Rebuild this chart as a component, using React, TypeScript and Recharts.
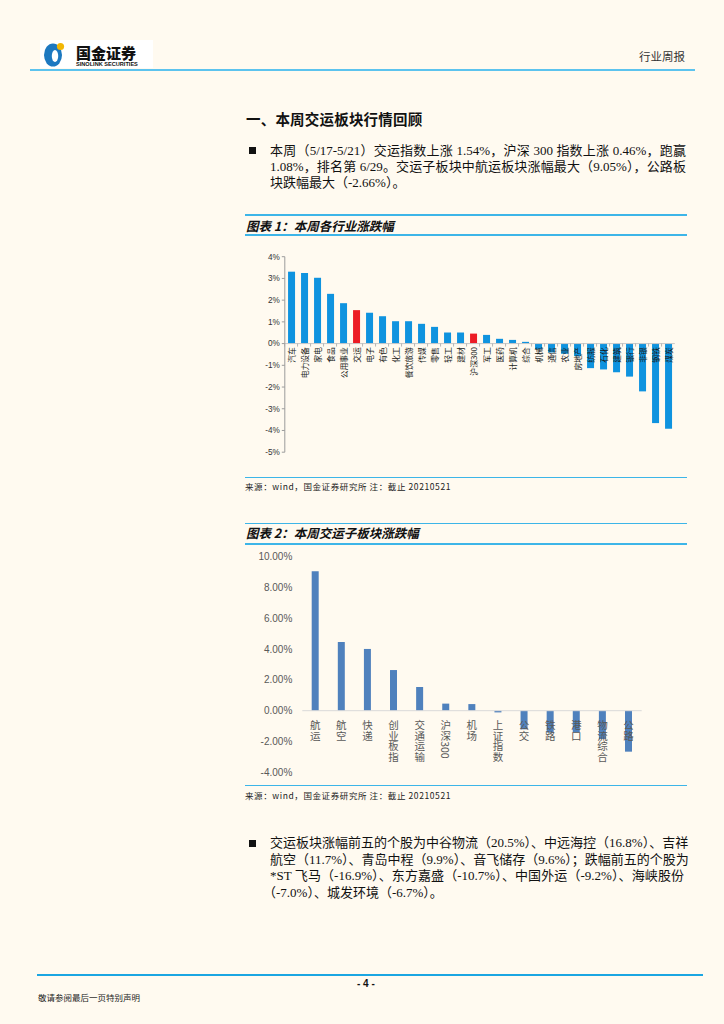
import React from 'react';
import { BarChart, Bar, XAxis, YAxis, Cell, ReferenceLine, LabelList } from 'recharts';

// ---------- Chart 1 data ----------
const industryNames = ['汽车', '电力设备', '家电', '食品', '公用事业', '交运', '电子', '有色', '化工', '餐饮旅游', '传媒', '零售', '轻工', '建材', '沪深300', '军工', '医药', '计算机', '综合', '机械', '通信', '农业', '房地产', '纺服', '石化', '建筑', '银行', '非银', '钢铁', '煤炭'];
const industryChanges = [3.31, 3.25, 3.03, 2.29, 1.86, 1.54, 1.42, 1.26, 1.03, 1.03, 0.91, 0.77, 0.51, 0.51, 0.46, 0.4, 0.22, 0.17, 0.08, -0.26, -0.41, -0.47, -0.58, -1.13, -1.19, -1.32, -1.52, -2.2, -3.66, -3.92];
const highlightedIndustries = ['交运', '沪深300'];
const industryTicks = [4, 3, 2, 1, 0, -1, -2, -3, -4, -5];

// ---------- Chart 2 data ----------
const sectorNames = ['航运', '航空', '快递', '创业板指', '交通运输', '沪深300', '机场', '上证指数', '公交', '铁路', '港口', '物流综合', '公路'];
const sectorChanges = [9.05, 4.46, 4.01, 2.64, 1.54, 0.46, 0.43, -0.11, -1.21, -1.42, -1.4, -1.84, -2.66];
const sectorTicks = [10, 8, 6, 4, 2, 0, -2, -4];

const industryData = industryNames.map((name, i) => ({ name, value: industryChanges[i] }));
const sectorData = sectorNames.map((name, i) => ({ name, value: sectorChanges[i] }));

const BG = '#fffaf0';
const LINE_BLUE = '#3db5e8';
const CJK = '"Liberation Serif", "Noto Sans CJK SC", serif';
const SANS_CJK = '"Noto Sans CJK SC", sans-serif';

function zeroOf(props: any, v: number) {
  const vb = props.viewBox || props;
  const y = Number(vb.y);
  const h = Number(vb.height);
  return { x: Number(vb.x), width: Number(vb.width), zeroY: v >= 0 ? Math.max(y, y + h) : Math.min(y, y + h) };
}

const IndustryLabel = (props: any) => {
  const name = props.value;
  const v = industryChanges[industryNames.indexOf(name)];
  const { x, width, zeroY } = zeroOf(props, v);
  const cx = x + width / 2;
  const ty = zeroY + 3.5;
  const tickX = x - width / 2;
  return (
    <g>
      <line x1={tickX} x2={tickX} y1={zeroY} y2={zeroY + 3} stroke="#a6a6a6" strokeWidth={0.8} />
      <text
        x={cx}
        y={ty}
        transform={`rotate(-90, ${cx}, ${ty})`}
        textAnchor="end"
        dominantBaseline="central"
        fontSize={7.8}
        fill="#1a1a1a"
        fontFamily={SANS_CJK}
      >
        {name}
      </text>
    </g>
  );
};

const SectorLabel = (props: any) => {
  const name = props.value;
  const v = sectorChanges[sectorNames.indexOf(name)];
  const { x, width, zeroY } = zeroOf(props, v);
  const cx = x + width / 2;
  return (
    <text
      x={cx}
      y={zeroY + 9.5}
      style={{ writingMode: 'vertical-rl' as any }}
      textAnchor="start"
      fontSize={10.5}
      fill="#595959"
      fontFamily={SANS_CJK}
    >
      {name}
    </text>
  );
};

const Txt = ({ x, y, size, children, style }: any) => (
  <div
    style={{
      position: 'absolute',
      left: x,
      top: y - size * 0.6,
      fontSize: size,
      lineHeight: `${size * 1.2}px`,
      whiteSpace: 'nowrap',
      fontFamily: CJK,
      color: '#111',
      ...style,
    }}
  >
    {children}
  </div>
);

const JLine = ({ x, y, w, size, children, last }: any) => (
  <div
    style={{
      position: 'absolute',
      left: x,
      top: y - size * 0.6,
      width: w,
      fontSize: size,
      lineHeight: `${size * 1.2}px`,
      height: size * 1.2,
      whiteSpace: 'nowrap',
      textAlign: last ? 'left' : 'justify',
      textAlignLast: last ? 'left' : 'justify',
      fontFamily: CJK,
      color: '#111',
    }}
  >
    {children}
  </div>
);

const HLine = ({ x1, x2, y, color = LINE_BLUE, h = 1.5 }: any) => (
  <div style={{ position: 'absolute', left: x1, top: y - h / 2, width: x2 - x1, height: h, background: color }} />
);

const Bullet = ({ x, y }: any) => (
  <div style={{ position: 'absolute', left: x, top: y - 3.5, width: 7, height: 7, background: '#111' }} />
);

export default function App() {
  return (
    <div style={{ position: 'absolute', left: 0, top: 0, width: 724, height: 1024, background: BG, overflow: 'hidden' }}>
      {/* Header */}
      <svg style={{ position: 'absolute', left: 0, top: 0 }} width={724} height={80}>
        <rect x={40} y={40} width={113} height={28} fill="#ffffff" />
        <ellipse cx={53} cy={55} rx={9} ry={11.5} fill="#1c78c0" />
        <ellipse cx={55} cy={56} rx={3.2} ry={6} fill="#ffffff" />
        <circle cx={60.5} cy={46.5} r={3.6} fill="#f2b705" />
        <text x={76} y={58.5} fontSize={15} fontWeight={900} fontFamily={SANS_CJK} fill="#111">国金证券</text>
        <text x={76} y={65.5} fontSize={5.6} fontWeight={700} fontFamily='"Liberation Sans", sans-serif' fill="#111">SINOLINK SECURITIES</text>
      </svg>
      <Txt x={639} y={58} size={11.5} style={{ color: '#333' }}>行业周报</Txt>
      <HLine x1={30} x2={695} y={70} color="#5cc3ee" h={2.2} />

      {/* Section title */}
      <Txt x={246} y={118.5} size={14.5} style={{ fontWeight: 700, fontFamily: SANS_CJK, letterSpacing: 0.2 }}>一、本周交运板块行情回顾</Txt>

      {/* Bullet 1 */}
      <Bullet x={249} y={150.5} />
      <JLine x={270} y={150.5} w={416} size={13}>本周（5/17-5/21）交运指数上涨 1.54%，沪深 300 指数上涨 0.46%，跑赢</JLine>
      <JLine x={270} y={166.5} w={416} size={13}>1.08%，排名第 6/29。交运子板块中航运板块涨幅最大（9.05%），公路板</JLine>
      <JLine x={270} y={182.5} w={416} size={13} last>块跌幅最大（-2.66%）。</JLine>

      {/* Chart 1 frame */}
      <HLine x1={245} x2={687} y={215} />
      <Txt x={246} y={225} size={12.5} style={{ fontWeight: 700, fontStyle: 'italic', fontFamily: SANS_CJK }}>图表 1：本周各行业涨跌幅</Txt>
      <HLine x1={245} x2={687} y={235} />

      <div style={{ position: 'absolute', left: 240, top: 245 }}>
        <BarChart
          width={445}
          height={220}
          data={industryData}
          margin={{ top: 11.7, right: 10.2, bottom: 12.8, left: 0 }}
          barCategoryGap="25%"
        >
          <XAxis dataKey="name" hide />
          <YAxis
            width={44.8}
            domain={[-5, 4]}
            ticks={industryTicks}
            interval={0}
            tickFormatter={(v: number) => `${v}%`}
            tick={{ fontSize: 8.2, fill: '#333', fontFamily: '"Liberation Sans", sans-serif' }}
            tickSize={3}
            tickMargin={2}
            axisLine={{ stroke: '#9c9c9c' }}
            tickLine={{ stroke: '#9c9c9c' }}
          />
          <ReferenceLine y={0} stroke="#c8c8c8" strokeWidth={1} />
          <Bar dataKey="value" isAnimationActive={false}>
            {industryData.map((d) => (
              <Cell key={d.name} fill={highlightedIndustries.includes(d.name) ? '#ec1c24' : '#0f93df'} />
            ))}
            <LabelList dataKey="name" content={IndustryLabel} />
          </Bar>
        </BarChart>
      </div>

      <HLine x1={245} x2={687} y={477.3} />
      <Txt x={245} y={486} size={8.5} style={{ fontFamily: SANS_CJK, color: '#222', letterSpacing: 0.6 }}>来源：wind，国金证券研究所 注：截止 20210521</Txt>

      {/* Chart 2 frame */}
      <HLine x1={245} x2={687} y={523.3} />
      <Txt x={246} y={532.5} size={12.5} style={{ fontWeight: 700, fontStyle: 'italic', fontFamily: SANS_CJK }}>图表 2：本周交运子板块涨跌幅</Txt>
      <HLine x1={245} x2={687} y={544} />

      <div style={{ position: 'absolute', left: 240, top: 545 }}>
        <BarChart
          width={445}
          height={240}
          data={sectorData}
          margin={{ top: 11.7, right: 43.3, bottom: 12.7, left: 0 }}
          barCategoryGap="36%"
        >
          <XAxis dataKey="name" hide />
          <YAxis
            width={62.3}
            domain={[-4, 10]}
            ticks={sectorTicks}
            interval={0}
            tickFormatter={(v: number) => `${v.toFixed(2)}%`}
            tick={{ fontSize: 10, fill: '#595959', fontFamily: '"Liberation Sans", sans-serif' }}
            tickSize={6}
            tickMargin={4}
            axisLine={false}
            tickLine={false}
          />
          <ReferenceLine y={0} stroke="#d9d9d9" strokeWidth={1} />
          <Bar dataKey="value" fill="#4f81bd" isAnimationActive={false}>
            <LabelList dataKey="name" content={SectorLabel} />
          </Bar>
        </BarChart>
      </div>

      <HLine x1={245} x2={687} y={785.5} />
      <Txt x={245} y={795} size={8.5} style={{ fontFamily: SANS_CJK, color: '#222', letterSpacing: 0.6 }}>来源：wind，国金证券研究所 注：截止 20210521</Txt>

      {/* Bullet 2 */}
      <Bullet x={249} y={843} />
      <JLine x={270} y={843} w={414} size={13}>交运板块涨幅前五的个股为中谷物流（20.5%）、中远海控（16.8%）、吉祥</JLine>
      <JLine x={270} y={859.5} w={414} size={13}>航空（11.7%）、青岛中程（9.9%）、音飞储存（9.6%）；跌幅前五的个股为</JLine>
      <JLine x={270} y={876} w={414} size={13}>*ST 飞马（-16.9%）、东方嘉盛（-10.7%）、中国外运（-9.2%）、海峡股份</JLine>
      <JLine x={263} y={892.5} w={414} size={13} last>（-7.0%）、城发环境（-6.7%）。</JLine>

      {/* Footer */}
      <HLine x1={37} x2={703} y={975} color="#1ba6e2" h={1.6} />
      <Txt x={357} y={984} size={10} style={{ fontWeight: 700, fontFamily: '"Liberation Sans", sans-serif' }}>- 4 -</Txt>
      <Txt x={38} y={997} size={8.5} style={{ fontFamily: SANS_CJK, color: '#222' }}>敬请参阅最后一页特别声明</Txt>
    </div>
  );
}
